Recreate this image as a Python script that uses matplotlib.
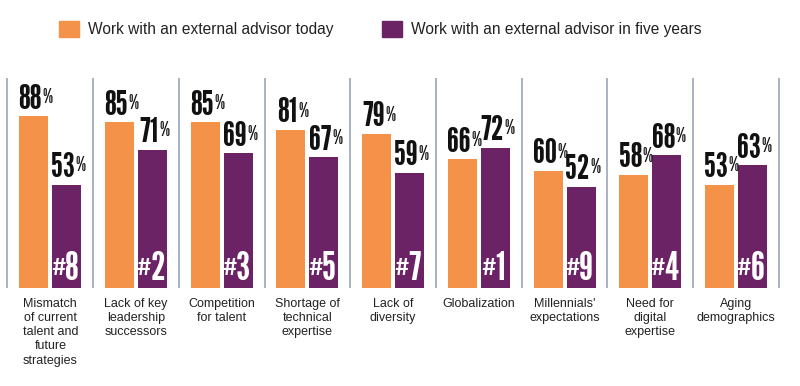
import matplotlib
matplotlib.use("Agg")
import matplotlib.pyplot as plt
import numpy as np
from matplotlib.patches import Patch

categories = [
    "Mismatch\nof current\ntalent and\nfuture\nstrategies",
    "Lack of key\nleadership\nsuccessors",
    "Competition\nfor talent",
    "Shortage of\ntechnical\nexpertise",
    "Lack of\ndiversity",
    "Globalization",
    "Millennials'\nexpectations",
    "Need for\ndigital\nexpertise",
    "Aging\ndemographics",
]
today = [88, 85, 85, 81, 79, 66, 60, 58, 53]
five_years = [53, 71, 69, 67, 59, 72, 52, 68, 63]
ranks = [8, 2, 3, 5, 7, 1, 9, 4, 6]
series_names = ["Work with an external advisor today",
                "Work with an external advisor in five years"]

ORANGE = "#F5924A"
PURPLE = "#6B2366"
SEP = "#A3ADBF"
COND = ["League Gothic", "Oswald", "DejaVu Sans"]
SANS = ["Liberation Sans", "DejaVu Sans"]

W, H = 800, 386
fig = plt.figure(figsize=(W / 100, H / 100), dpi=100)
base_px = 288
ax = fig.add_axes([0, (H - base_px) / H, 1, base_px / H])
ax.set_xlim(-0.587, 8.746)
ax.set_ylim(0, base_px / 1.95)
for s in ax.spines.values():
    s.set_visible(False)
ax.set_yticks([])

x = np.arange(len(categories))
bw = 0.338
off = 0.1925
ax.bar(x - off, today, bw, color=ORANGE, zorder=2)
ax.bar(x + off, five_years, bw, color=PURPLE, zorder=2)

ax.vlines(np.arange(len(categories) + 1) - 0.5, 0, (base_px - 78) / 1.95,
          color=SEP, lw=1.3, zorder=1)

ax.set_xticks(x)
ax.set_xticklabels(categories, family=SANS, fontsize=9, color="#222222",
                   linespacing=1.25, va="top")
ax.tick_params(axis="x", length=0, pad=7)


def value_label(xp, v):
    num = ax.annotate(f"{v}", (xp, v), xytext=(-2.5, 5.5),
                      textcoords="offset points", ha="center", va="baseline",
                      family=COND, fontsize=25, color="#111111", zorder=3)
    ax.annotate("%", (1, 1), xycoords=num, xytext=(0.3, -3.2),
                textcoords="offset points", ha="left", va="top",
                family=COND, fontsize=14.5, color="#111111", zorder=3)


def rank_label(xp, r):
    num = ax.annotate(f"{r}", (xp, 0), xytext=(3.5, 6),
                      textcoords="offset points", ha="center", va="baseline",
                      family=COND, fontsize=29, color="white", zorder=3)
    ax.annotate("#", (0, 1), xycoords=num, xytext=(0.4, -5.5),
                textcoords="offset points", ha="right", va="top",
                family=COND, fontsize=17, color="white", zorder=3)


for i in range(len(categories)):
    value_label(x[i] - off, today[i])
    value_label(x[i] + off, five_years[i])
    rank_label(x[i] + off, ranks[i])

handles = [Patch(color=ORANGE), Patch(color=PURPLE)]
fig.legend(handles, series_names, loc="center left",
           bbox_to_anchor=(59 / W, 1 - 29 / H), ncol=2, frameon=False,
           prop=dict(family=SANS, size=11.2), handlelength=1.28,
           handleheight=1.22, handletextpad=0.58, columnspacing=3.1,
           borderpad=0, borderaxespad=0, labelcolor="#222222")

fig.savefig("out.png", dpi=100)
